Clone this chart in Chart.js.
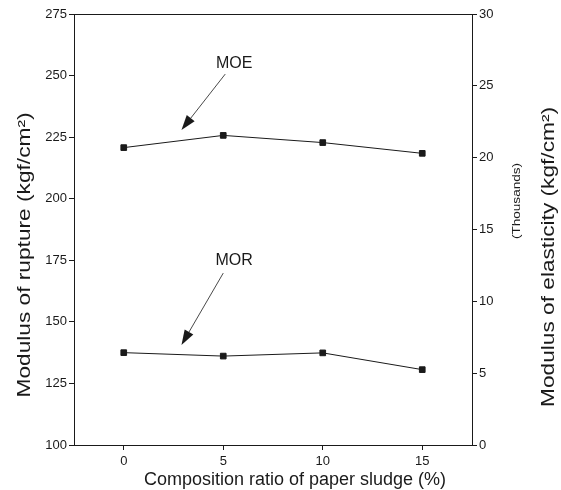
<!DOCTYPE html>
<html>
<head>
<meta charset="utf-8">
<script src="https://cdn.jsdelivr.net/npm/chart.js@4.4.1/dist/chart.umd.min.js"></script>
<style>
    html, body { margin: 0; padding: 0; background: #fff; }
    #wrap { width: 561px; height: 490px; position: relative; }
</style>
</head>
<body>
<div id="wrap"><canvas id="strengthChart"></canvas></div>
<script>
const ratios = [0, 5, 10, 15];
const morValues = [137.5, 136.1, 137.4, 130.6];
const moeValues = [20.7, 21.55, 21.05, 20.3];
const xTicks = [0, 5, 10, 15];
const leftTicks = [100, 125, 150, 175, 200, 225, 250, 275];
const rightTicks = [0, 5, 10, 15, 20, 25, 30];

const FONT = '"Liberation Sans", Arial, Helvetica, sans-serif';
const INK = '#1a1a1a';

// callouts: label, label anchor, arrow tail, arrow tip (data units, left axis)
const callouts = [
    { text: 'MOE', at: [5.55, 255.0], from: [5.1, 250.6], to: [2.9, 227.9] },
    { text: 'MOR', at: [5.55, 174.9], from: [5.0, 169.8], to: [2.9, 140.6] }
];

// draw text rotated -90deg and stretched to a given length (the scan is stretched)
function verticalText(ctx, text, cx, cy, size, length) {
    ctx.save();
    ctx.font = size + 'px ' + FONT;
    const w = ctx.measureText(text).width;
    ctx.translate(cx, cy);
    ctx.rotate(-Math.PI / 2);
    ctx.scale(length / w, 1);
    ctx.fillText(text, 0, 0);
    ctx.restore();
}

const framePlugin = {
    id: 'frame',
    afterDraw(chart) {
        const ctx = chart.ctx;
        const a = chart.chartArea;
        const xs = chart.scales.x;
        const ys = chart.scales.y;

        ctx.save();
        ctx.strokeStyle = INK;
        ctx.lineWidth = 1;
        ctx.beginPath();
        ctx.moveTo(a.left, a.top + 0.5);
        ctx.lineTo(a.right, a.top + 0.5);
        ctx.stroke();

        // callouts with arrows
        ctx.fillStyle = INK;
        ctx.font = '16px ' + FONT;
        ctx.textAlign = 'center';
        ctx.textBaseline = 'middle';
        callouts.forEach(c => {
            ctx.fillText(c.text, xs.getPixelForValue(c.at[0]), ys.getPixelForValue(c.at[1]));
            const x1 = xs.getPixelForValue(c.from[0]), y1 = ys.getPixelForValue(c.from[1]);
            const x2 = xs.getPixelForValue(c.to[0]), y2 = ys.getPixelForValue(c.to[1]);
            const ang = Math.atan2(y2 - y1, x2 - x1);
            const headLen = 15, headW = 5;
            const bx = x2 - headLen * Math.cos(ang), by = y2 - headLen * Math.sin(ang);
            ctx.beginPath();
            ctx.lineWidth = 0.8;
            ctx.moveTo(x1, y1);
            ctx.lineTo(bx, by);
            ctx.stroke();
            ctx.beginPath();
            ctx.moveTo(x2, y2);
            ctx.lineTo(bx + headW * Math.sin(ang), by - headW * Math.cos(ang));
            ctx.lineTo(bx - headW * Math.sin(ang), by + headW * Math.cos(ang));
            ctx.closePath();
            ctx.fill();
        });

        // axis titles
        ctx.font = '18px ' + FONT;
        ctx.fillText('Composition ratio of paper sludge (%)', 295, 480);

        verticalText(ctx, 'Modulus of rupture (kgf/cm\u00B2)', 25, 255, 18, 285);
        verticalText(ctx, 'Modulus of elasticity (kgf/cm\u00B2)', 549, 257, 18, 300);
        verticalText(ctx, '(Thousands)', 517, 201, 11, 76);

        ctx.restore();
    }
};

const tickFont = { family: FONT, size: 13 };
const tickGrid = { display: true, drawOnChartArea: false, drawTicks: true, tickLength: 5, color: INK, lineWidth: 1 };

new Chart(document.getElementById('strengthChart').getContext('2d'), {
    type: 'line',
    data: {
        datasets: [
            {
                label: 'MOE',
                data: ratios.map((r, i) => ({ x: r, y: moeValues[i] })),
                yAxisID: 'y2',
                borderColor: INK,
                backgroundColor: INK,
                borderWidth: 1,
                pointStyle: 'rect',
                pointRadius: 4,
                tension: 0
            },
            {
                label: 'MOR',
                data: ratios.map((r, i) => ({ x: r, y: morValues[i] })),
                yAxisID: 'y',
                borderColor: INK,
                backgroundColor: INK,
                borderWidth: 1,
                pointStyle: 'rect',
                pointRadius: 4,
                tension: 0
            }
        ]
    },
    options: {
        responsive: true,
        maintainAspectRatio: false,
        animation: false,
        layout: { padding: { top: 14, left: 0, right: 0, bottom: 0 } },
        plugins: {
            legend: { display: false },
            tooltip: { enabled: false }
        },
        scales: {
            x: {
                type: 'linear',
                min: -2.5,
                max: 17.5,
                afterBuildTicks: s => { s.ticks = xTicks.map(v => ({ value: v })); },
                afterFit: s => { s.height = 45; },
                grid: tickGrid,
                border: { display: true, color: INK },
                ticks: { font: tickFont, color: INK, padding: 4, maxRotation: 0 }
            },
            y: {
                position: 'left',
                min: 100,
                max: 275,
                afterBuildTicks: s => { s.ticks = leftTicks.map(v => ({ value: v })); },
                afterFit: s => { s.width = 74; },
                grid: tickGrid,
                border: { display: true, color: INK },
                ticks: { font: tickFont, color: INK, padding: 2 }
            },
            y2: {
                position: 'right',
                min: 0,
                max: 30,
                afterBuildTicks: s => { s.ticks = rightTicks.map(v => ({ value: v })); },
                afterFit: s => { s.width = 89; },
                grid: tickGrid,
                border: { display: true, color: INK },
                ticks: { font: tickFont, color: INK, padding: 2 }
            }
        }
    },
    plugins: [framePlugin]
});
</script>
</body>
</html>
